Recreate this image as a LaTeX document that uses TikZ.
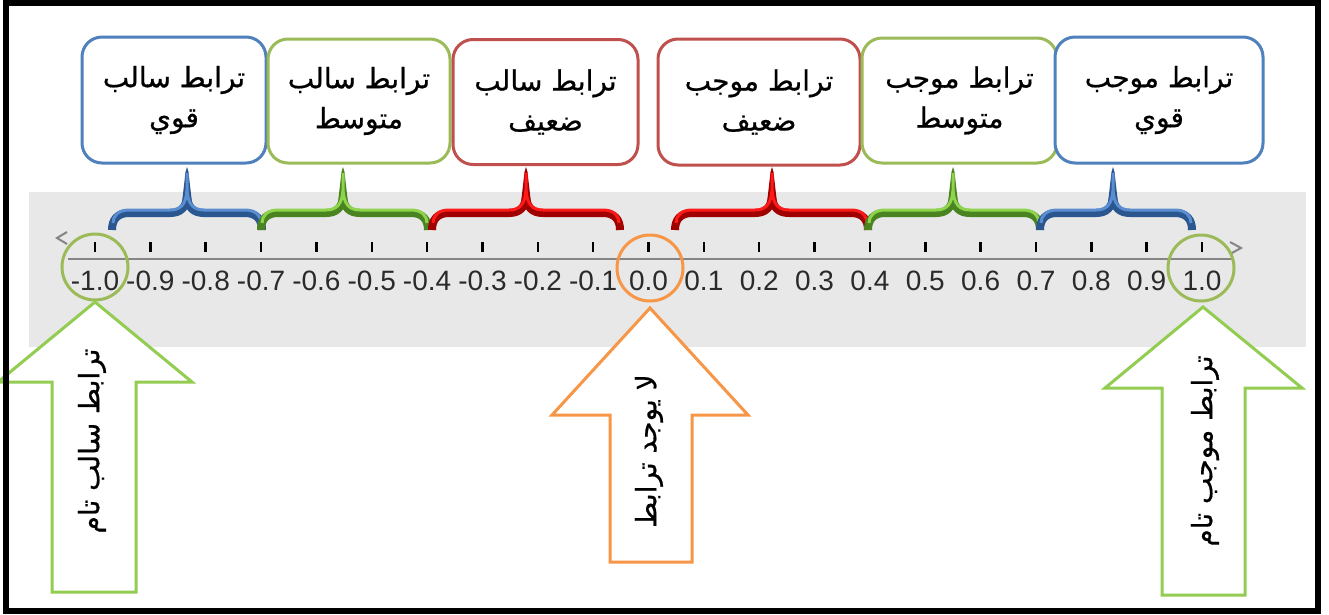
\documentclass[tikz,border=0pt]{standalone}
\usepackage{fontspec}
\setmainfont{Liberation Sans}
\newfontfamily\arabicfont[Script=Arabic,FakeBold=0.6]{DejaVu Sans}
\TeXXeTstate=1
\definecolor{cblue}{HTML}{4F81BD}
\definecolor{cgreen}{HTML}{9BBB59}
\definecolor{agreen}{HTML}{92CC50}
\definecolor{cred}{HTML}{C0504D}
\definecolor{corange}{HTML}{F79646}
\definecolor{bandgray}{HTML}{E8E8E8}
\definecolor{axisgray}{HTML}{858585}
\definecolor{numgray}{HTML}{2A2A2A}
\definecolor{bbluedark}{HTML}{2B5791}
\definecolor{bbluelight}{HTML}{5A8ED0}
\definecolor{bgreendark}{HTML}{4A8420}
\definecolor{bgreenlight}{HTML}{8ED34C}
\definecolor{breddark}{HTML}{A00000}
\definecolor{bredlight}{HTML}{FF1A1A}
\newcommand\corrbrace[5]{%
  \draw[line width=8pt,#4] (#1,230) .. controls (#1,220) and ({#1+5},213) .. ({#1+17},213)
     -- ({#2-17},213) .. controls ({#2-6},213) and ({#2-1},207) .. (#2,197)
     .. controls ({#2+1},207) and ({#2+6},213) .. ({#2+17},213)
     -- ({#3-17},213) .. controls ({#3-5},213) and (#3,220) .. (#3,230);
  \fill[#4] ({#2-5},203) -- ({#2-1.5},172) -- (#2,167) -- ({#2+1.5},172) -- ({#2+5},203) -- cycle;
  \draw[line width=3pt,#5,yshift=2pt] ({#1+1},225) .. controls ({#1+1},218) and ({#1+6},212) .. ({#1+17},212)
     -- ({#2-17},212) .. controls ({#2-6},212) and ({#2-1},206) .. (#2,192) -- (#2,175);
  \draw[line width=3pt,#5,yshift=2pt] (#2,192) .. controls ({#2+1},206) and ({#2+6},212) .. ({#2+17},212)
     -- ({#3-17},212) .. controls ({#3-6},212) and ({#3-1},218) .. ({#3-1},225);
}
\tikzset{
  box/.style={draw, line width=3pt, rounded corners=20pt, fill=white, align=center,
     font=\arabicfont\fontsize{28}{40}\selectfont, inner sep=0pt},
  numlbl/.style={font=\fontsize{28}{30}\selectfont, text=numgray, inner sep=0pt},
  ringmark/.style={draw, line width=3pt, circle, minimum size=66pt, inner sep=0pt},
  arrowtext/.style={rotate=90, font=\arabicfont\fontsize{28}{32}\selectfont, inner sep=0pt},
  blockarrow/.style={draw, line width=3pt, fill=white, line join=miter},
}
\begin{document}
\begin{tikzpicture}[x=1pt,y=-1pt]
\useasboundingbox (0,0) rectangle (1329,614);
\fill[white] (0,0) rectangle (1329,614);
% gray band
\fill[bandgray] (29,192) rectangle (1306,347);
% top boxes
\node[box, draw=cblue, minimum width=184pt, minimum height=126pt] (b1) at (174,100) {\beginR ترابط سالب\endR\\\beginR قوي\endR};
\node[box, draw=cgreen, minimum width=182pt, minimum height=124pt] (b2) at (359,101) {\beginR ترابط سالب\endR\\\beginR متوسط\endR};
\node[box, draw=cred, minimum width=185pt, minimum height=125pt] (b3) at (545.5,102) {\beginR ترابط سالب\endR\\\beginR ضعيف\endR};
\node[box, draw=cred, minimum width=202pt, minimum height=126pt] (b4) at (759,102) {\beginR ترابط موجب\endR\\\beginR ضعيف\endR};
\node[box, draw=cgreen, minimum width=195pt, minimum height=125pt] (b5) at (959.5,100.5) {\beginR ترابط موجب\endR\\\beginR متوسط\endR};
\node[box, draw=cblue, minimum width=208pt, minimum height=126pt] (b6) at (1159,100) {\beginR ترابط موجب\endR\\\beginR قوي\endR};
% braces
\corrbrace{112}{187}{262}{bbluedark}{bbluelight}
\corrbrace{261}{343}{428}{bgreendark}{bgreenlight}
\corrbrace{432}{526}{620}{breddark}{bredlight}
\corrbrace{675}{772}{868}{breddark}{bredlight}
\corrbrace{868}{953}{1040}{bgreendark}{bgreenlight}
\corrbrace{1040}{1113}{1192}{bbluedark}{bbluelight}
% axis
\coordinate (axL) at (68,259);
\coordinate (axR) at (1232,259);
\draw[axisgray, line width=2pt] (axL) -- (axR);
\draw[axisgray, line width=2pt] (67,232) -- (57,238) -- (67,244);
\draw[axisgray, line width=2pt] (1230,242) -- (1241,248) -- (1230,254);
\foreach \i in {0,...,20} {
  \pgfmathsetmacro{\xx}{95+55.35*\i}
  \draw[black, line width=2.5pt] (\xx,242) -- (\xx,252);
  \pgfmathtruncatemacro{\v}{\i-10}
  \ifnum\v<0
    \pgfmathtruncatemacro{\av}{-\v}
    \ifnum\av=10 \def\lbl{-1.0}\else \edef\lbl{-0.\av}\fi
  \else
    \ifnum\v=10 \def\lbl{1.0}\else \edef\lbl{0.\v}\fi
  \fi
  \node[numlbl] (n\i) at (\xx,281) {\lbl};
}
% rings
\node[ringmark, draw=cgreen] (r1) at (95,267) {};
\node[ringmark, draw=corange] (r2) at (650,268) {};
\node[ringmark, draw=cgreen] (r3) at (1201,268) {};
% block arrows
\draw[blockarrow, draw=agreen] (95,302) -- (192,382) -- (136,382) -- (136,592) -- (52,592) -- (52,382) -- (-2,382) -- cycle;
\draw[blockarrow, draw=corange] (650,308) -- (748,415) -- (692,415) -- (692,562) -- (610,562) -- (610,415) -- (552,415) -- cycle;
\draw[blockarrow, draw=agreen] (1203,307) -- (1302,388) -- (1245,388) -- (1245,595) -- (1162,595) -- (1162,388) -- (1105,388) -- cycle;
\node[arrowtext] (t1) at (92,441) {\beginR ترابط سالب تام\endR};
\node[arrowtext] (t2) at (649,451) {\beginR لا يوجد ترابط\endR};
\node[arrowtext] (t3) at (1205,451) {\beginR ترابط موجب تام\endR};
% frame
\draw[black, line width=6pt] (5.5,3) rectangle (1317.5,610.5);
\end{tikzpicture}
\end{document}
